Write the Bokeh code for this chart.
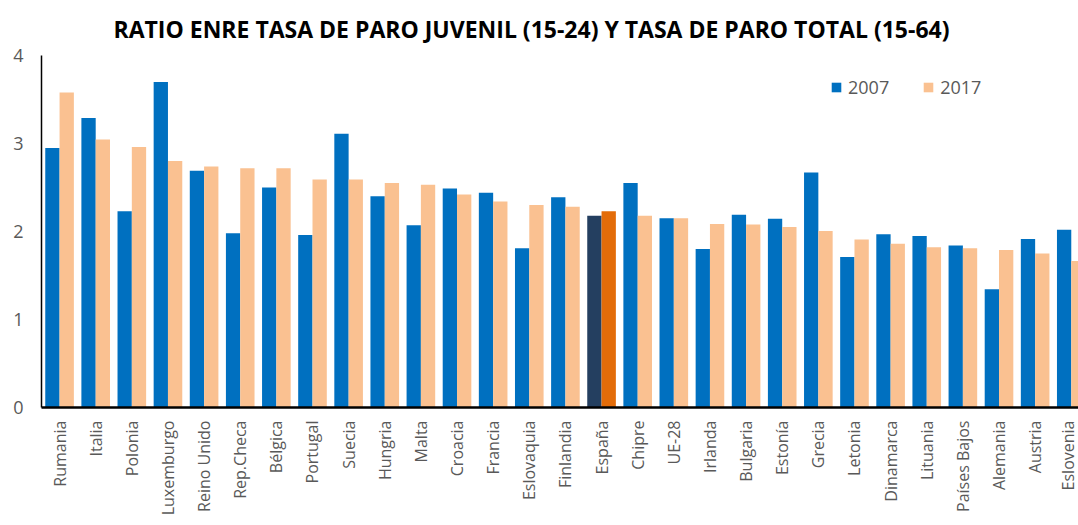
import math
import numpy as np
from bokeh.plotting import figure
from bokeh.models import Range1d, FixedTicker, Legend, LegendItem, ColumnDataSource
from bokeh.embed import file_html
from bokeh.resources import INLINE
from bokeh.core.properties import value

# ---- data ----
paises = ["Rumania", "Italia", "Polonia", "Luxemburgo", "Reino Unido", "Rep.Checa",
          "Bélgica", "Portugal", "Suecia", "Hungria", "Malta", "Croacia", "Francia",
          "Eslovaquia", "Finlandia", "España", "Chipre", "UE-28", "Irlanda", "Bulgaria",
          "Estonía", "Grecia", "Letonia", "Dinamarca", "Lituania", "Países Bajos",
          "Alemania", "Austria", "Eslovenia"]
v2007 = [2.95, 3.29, 2.23, 3.70, 2.69, 1.98, 2.50, 1.96, 3.11, 2.40, 2.07, 2.49, 2.44,
         1.81, 2.39, 2.18, 2.55, 2.15, 1.80, 2.19, 2.145, 2.67, 1.71, 1.97, 1.95, 1.84,
         1.345, 1.915, 2.02]
v2017 = [3.58, 3.045, 2.96, 2.80, 2.74, 2.72, 2.72, 2.59, 2.59, 2.55, 2.53, 2.42, 2.34,
         2.30, 2.28, 2.23, 2.18, 2.15, 2.085, 2.08, 2.05, 2.005, 1.91, 1.86, 1.82, 1.81,
         1.79, 1.75, 1.665]
series = ["2007", "2017"]
titulo = "RATIO ENRE TASA DE PARO JUVENIL (15-24) Y TASA DE PARO TOTAL (15-64)"
destacado = "España"

# ---- styles ----
C07, C17 = "#0070C0", "#FAC191"
C07_ES, C17_ES = "#243F60", "#E36C09"
GRAY = "#595959"
FONT = "Open Sans"

idx = np.arange(len(paises))
bw = 0.396
src07 = ColumnDataSource(dict(x=idx - bw / 2, top=v2007,
                              color=[C07_ES if c == destacado else C07 for c in paises]))
src17 = ColumnDataSource(dict(x=idx + bw / 2, top=v2017,
                              color=[C17_ES if c == destacado else C17 for c in paises]))

W, H = 1078, 525
p = figure(width=W, height=H, output_backend="svg", toolbar_location=None,
           x_range=Range1d(-0.5, 28.2), y_range=Range1d(0, 4),
           min_border_left=41, min_border_right=0, min_border_top=54,
           min_border_bottom=118)
p.outline_line_color = None
p.xgrid.visible = False
p.ygrid.visible = False

r07 = p.vbar(x="x", top="top", width=bw, bottom=0, source=src07,
             fill_color="color", line_color=None)
r17 = p.vbar(x="x", top="top", width=bw, bottom=0, source=src17,
             fill_color="color", line_color=None)

# x axis
xa = p.xaxis[0]
xa.ticker = FixedTicker(ticks=list(range(len(paises))))
xa.major_label_overrides = {i: n for i, n in enumerate(paises)}
xa.major_label_orientation = math.pi / 2
xa.major_label_text_font = FONT
xa.major_label_text_font_size = "16px"
xa.major_label_text_color = GRAY
xa.major_label_standoff = 13
xa.major_tick_line_color = None
xa.major_tick_out = 0
xa.major_tick_in = 0
xa.minor_tick_line_color = None
xa.axis_line_color = "black"
xa.axis_line_width = 2.5

# y axis
ya = p.yaxis[0]
ya.ticker = FixedTicker(ticks=[0, 1, 2, 3, 4])
ya.major_label_text_font = FONT
ya.major_label_text_font_size = "18px"
ya.major_label_text_color = GRAY
ya.major_label_standoff = 18
ya.major_tick_line_color = None
ya.major_tick_out = 0
ya.major_tick_in = 0
ya.minor_tick_line_color = None
ya.axis_line_color = "black"
ya.axis_line_width = 1.5

# title
p.title.text = titulo
p.title.text_font = FONT
p.title.text_font_style = "bold"
p.title.text_font_size = "23px"
p.title.text_color = "black"
p.title.align = "left"
p.title.offset = 72
p.title.standoff = 21

# legend
leg = Legend(items=[LegendItem(label=series[0], renderers=[r07]),
                    LegendItem(label=series[1], renderers=[r17])],
             orientation="horizontal", location=(789, 308),
             glyph_width=12, glyph_height=12, label_standoff=6, spacing=33,
             padding=0, margin=0, border_line_color=None, background_fill_alpha=0,
             label_text_font=FONT, label_text_font_size="18px",
             label_text_color=GRAY, label_height=12)
p.add_layout(leg)

open("out.html", "w").write(file_html(p, INLINE))
